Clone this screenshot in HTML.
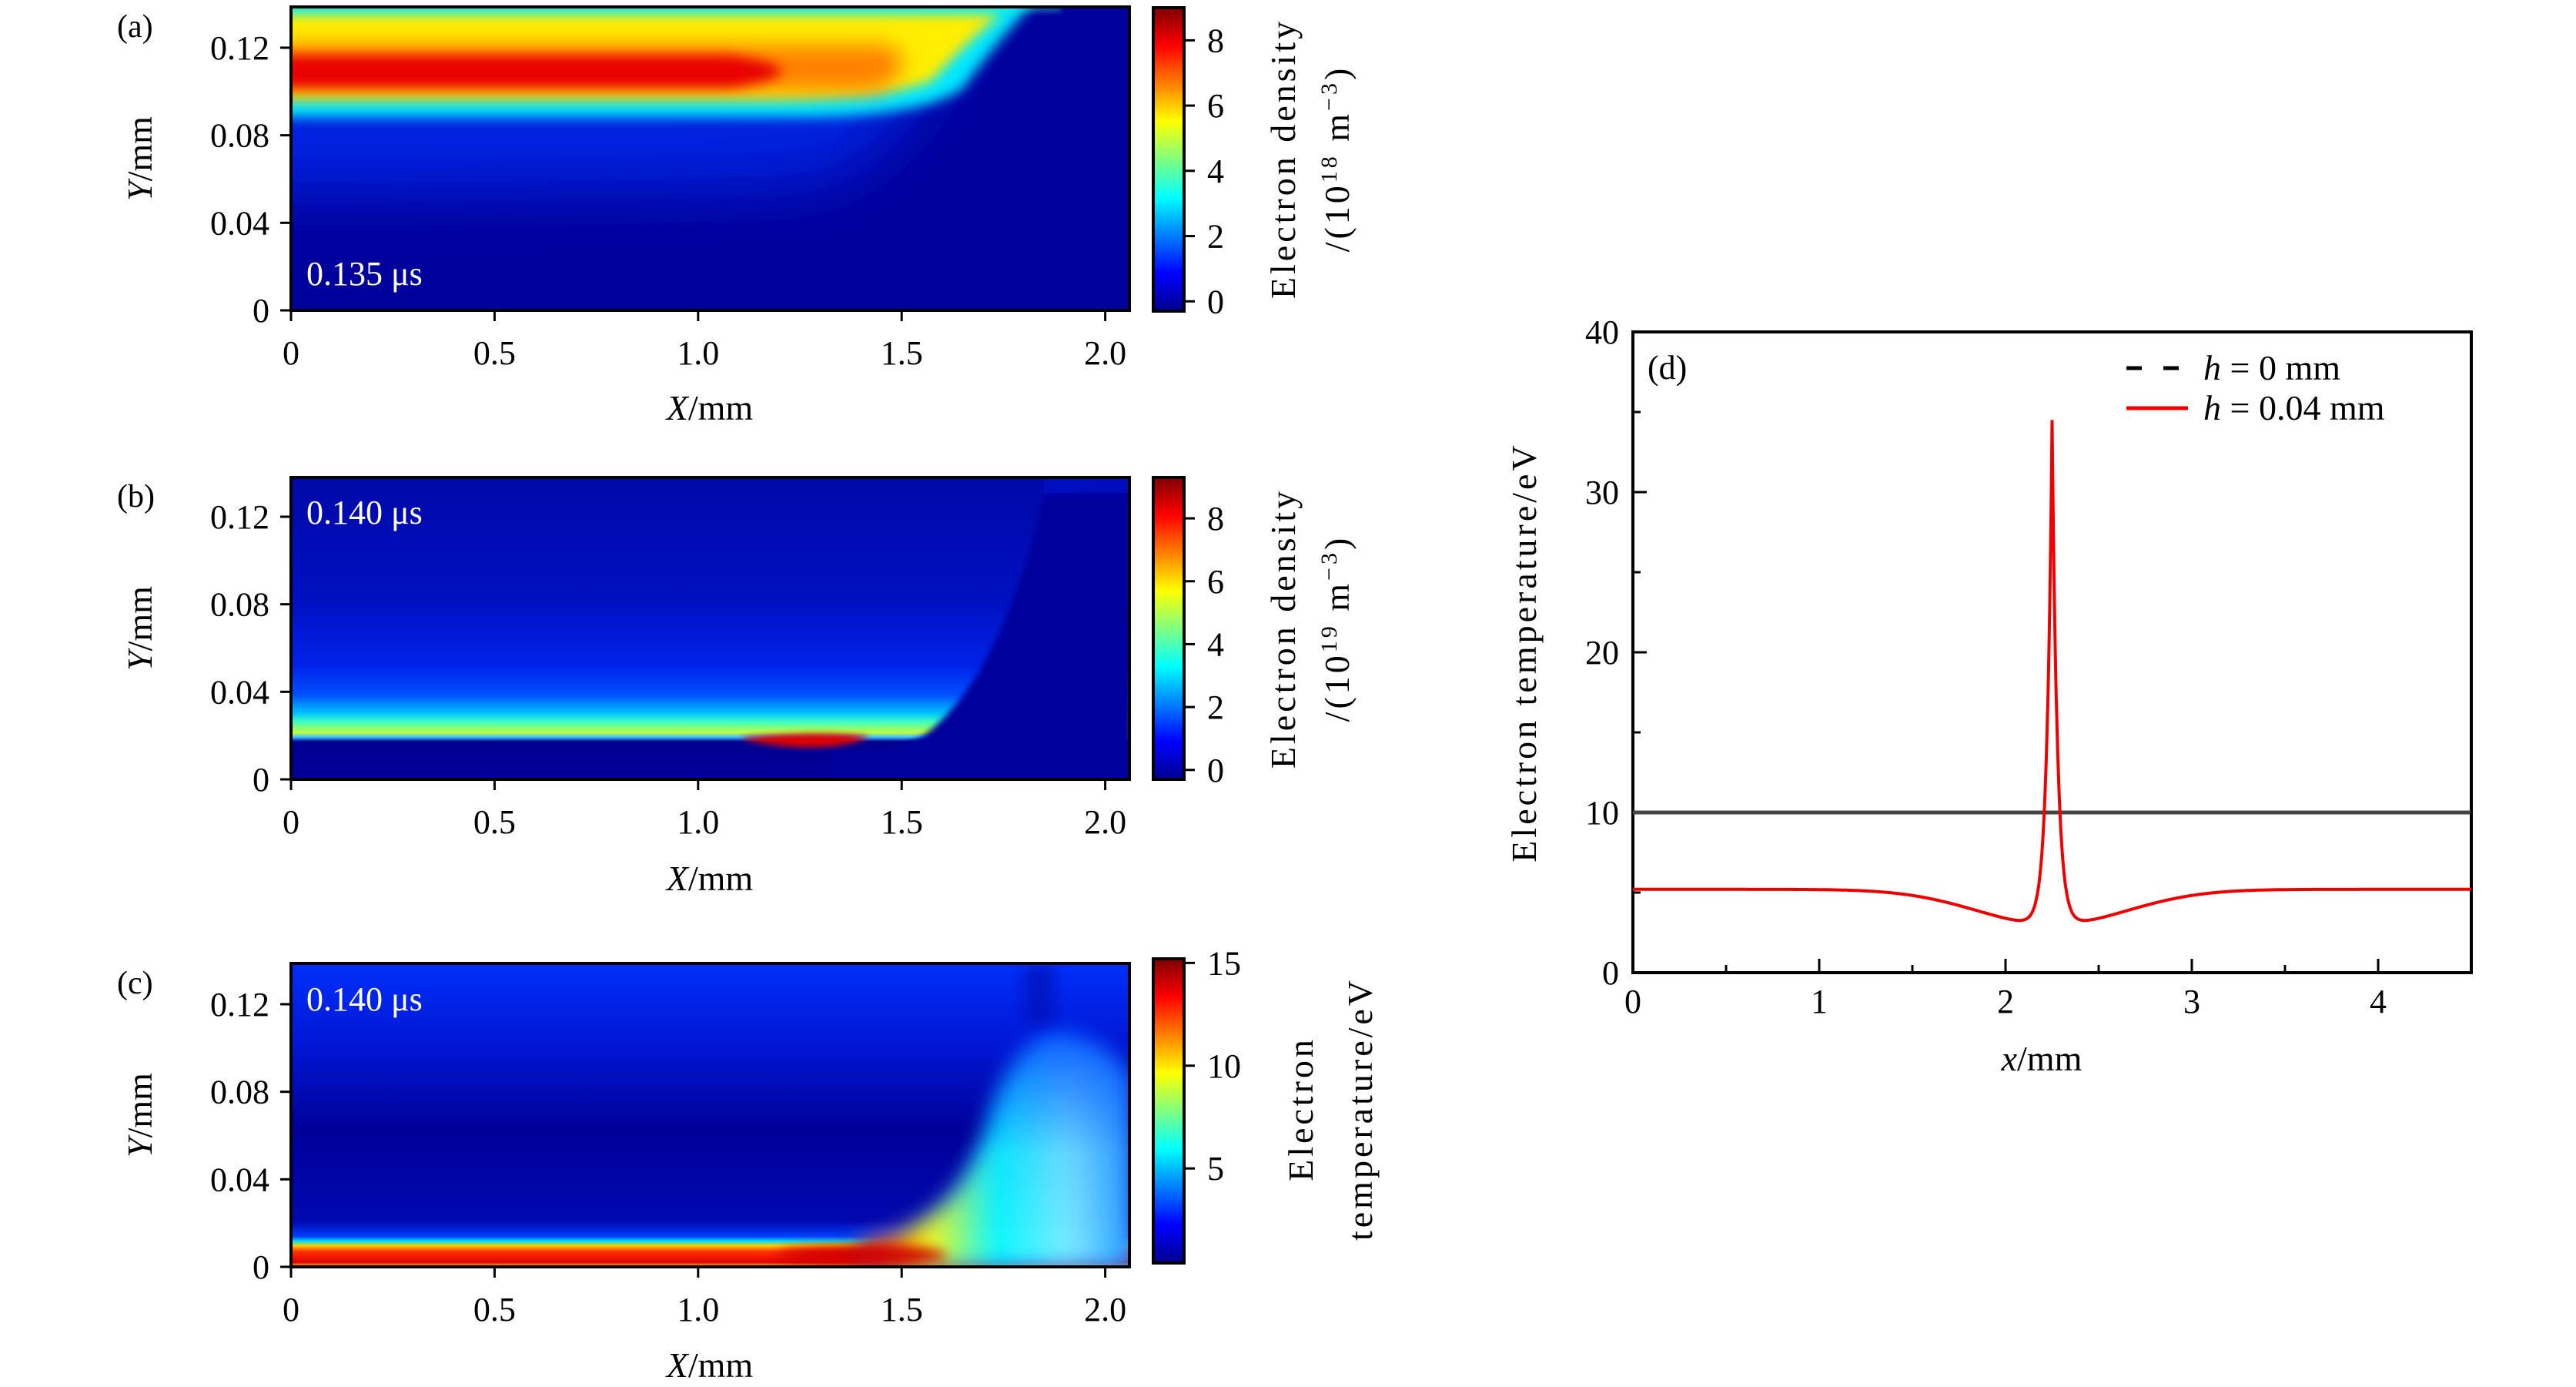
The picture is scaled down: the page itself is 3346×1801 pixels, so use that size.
<!DOCTYPE html>
<html><head><meta charset="utf-8"><style>
html,body{margin:0;padding:0;background:#fff}
svg{display:block}
text{font-family:"Liberation Serif","DejaVu Serif",serif;fill:#000}
</style></head><body>
<svg id="s" width="3346" height="1801" viewBox="0 0 3346 1801" xmlns="http://www.w3.org/2000/svg">
<defs>
<linearGradient id="jet" x1="0" y1="1" x2="0" y2="0">
<stop offset="0" stop-color="#00008f"/><stop offset="0.125" stop-color="#0000ff"/>
<stop offset="0.375" stop-color="#00ffff"/><stop offset="0.5" stop-color="#80ff80"/><stop offset="0.625" stop-color="#ffff00"/>
<stop offset="0.875" stop-color="#ff0000"/><stop offset="1" stop-color="#800000"/></linearGradient>
<filter id="b4" filterUnits="userSpaceOnUse" x="0" y="0" width="3346" height="1801"><feGaussianBlur stdDeviation="4"/></filter>
<filter id="b8" filterUnits="userSpaceOnUse" x="0" y="0" width="3346" height="1801"><feGaussianBlur stdDeviation="8"/></filter>
<filter id="b14" filterUnits="userSpaceOnUse" x="0" y="0" width="3346" height="1801"><feGaussianBlur stdDeviation="14"/></filter>
<filter id="b20" filterUnits="userSpaceOnUse" x="0" y="0" width="3346" height="1801"><feGaussianBlur stdDeviation="20"/></filter>
<filter id="b40" filterUnits="userSpaceOnUse" x="0" y="0" width="3346" height="1801"><feGaussianBlur stdDeviation="40"/></filter>
<clipPath id="ca"><rect x="378" y="9" width="1089" height="394"/></clipPath>
<clipPath id="cb"><rect x="378" y="620" width="1089" height="392"/></clipPath>
<clipPath id="cc"><rect x="378" y="1251" width="1089" height="394"/></clipPath>
<linearGradient id="bgb" x1="0" y1="0" x2="0" y2="1">
<stop offset="0" stop-color="#0008a8"/><stop offset="0.4" stop-color="#0010c0"/><stop offset="0.62" stop-color="#0022e8"/><stop offset="0.72" stop-color="#0050ff"/><stop offset="0.78" stop-color="#00c0ff"/><stop offset="0.81" stop-color="#40ffc0"/><stop offset="0.845" stop-color="#c0ff40"/><stop offset="0.86" stop-color="#40c0ff"/><stop offset="0.875" stop-color="#000090"/><stop offset="1" stop-color="#00009a"/></linearGradient>
<linearGradient id="bgc" x1="0" y1="0" x2="0" y2="1">
<stop offset="0" stop-color="#0030f8"/><stop offset="0.25" stop-color="#0018d8"/><stop offset="0.55" stop-color="#000098"/><stop offset="0.85" stop-color="#0008b0"/><stop offset="0.9" stop-color="#0040ff"/><stop offset="0.915" stop-color="#00e0ff"/><stop offset="0.93" stop-color="#ffd000"/><stop offset="0.95" stop-color="#ff3000"/><stop offset="0.985" stop-color="#e00000"/><stop offset="1" stop-color="#ffe000"/></linearGradient>
<linearGradient id="hotc" x1="1150" y1="0" x2="1467" y2="0" gradientUnits="userSpaceOnUse">
<stop offset="0" stop-color="#ff4000"/><stop offset="0.18" stop-color="#ffff00"/><stop offset="0.45" stop-color="#00ffff"/><stop offset="0.75" stop-color="#80f0ff"/><stop offset="1" stop-color="#30a0ff"/></linearGradient>
<linearGradient id="hotv" x1="0" y1="1320" x2="0" y2="1645" gradientUnits="userSpaceOnUse">
<stop offset="0" stop-color="#fff" stop-opacity="0"/><stop offset="0.55" stop-color="#fff" stop-opacity="0.85"/><stop offset="1" stop-color="#fff" stop-opacity="1"/></linearGradient>
<mask id="mc" maskUnits="userSpaceOnUse" x="0" y="0" width="3346" height="1801"><rect x="1000" y="1251" width="467" height="394" fill="url(#hotv)"/></mask>
</defs>

<!-- Panel a -->
<g clip-path="url(#ca)">
<rect x="378" y="9" width="1089" height="394" fill="#00009c"/>
<path d="M300 0 H1250 Q1200 200 1050 240 Q800 250 300 250 Z" fill="#0020e0" filter="url(#b40)"/>
<path d="M300 0 H1345 Q1290 60 1250 115 Q1200 150 1050 152 H300 Z" fill="#00e8ff" filter="url(#b8)"/>
<path d="M300 18 H1300 Q1250 60 1210 105 Q1150 128 1000 129 H300 Z" fill="#ffee00" filter="url(#b8)"/>
<path d="M300 58 H1150 Q1200 80 1140 118 H300 Z" fill="#ff8000" filter="url(#b14)"/>
<path d="M300 72 H950 Q1080 92 950 114 H300 Z" fill="#e80000" filter="url(#b8)"/>
<rect x="378" y="9" width="1000" height="5" fill="#40ffc0" opacity="0.6" filter="url(#b4)"/>
</g>
<!-- Panel b -->
<g clip-path="url(#cb)">
<rect x="378" y="620" width="1089" height="392" fill="url(#bgb)"/>
<path d="M1080 972 Q1150 985 1200 955 Q1300 880 1356 643 L1470 620 L1470 1020 L1080 1020 Z" fill="#00009c" filter="url(#b4)"/>
<path d="M960 958 Q1060 948 1130 956 Q1100 972 1040 970 Q990 968 960 958 Z" fill="#e00000" filter="url(#b4)"/>
<rect x="1356" y="620" width="111" height="20" fill="#0010c0" filter="url(#b4)"/>
</g>
<!-- Panel c -->
<g clip-path="url(#cc)">
<rect x="378" y="1251" width="1089" height="394" fill="url(#bgc)"/>
<path d="M1118 1611 Q1250 1600 1290 1440 Q1320 1350 1370 1335 Q1440 1345 1470 1400 L1470 1645 L1118 1645 Z" fill="#0050ff" filter="url(#b14)"/>
<g mask="url(#mc)"><path d="M1118 1611 Q1250 1600 1290 1440 Q1320 1350 1370 1340 Q1440 1345 1470 1400 L1470 1645 L1118 1645 Z" fill="url(#hotc)" filter="url(#b14)"/></g>
<ellipse cx="1120" cy="1630" rx="110" ry="12" fill="#d00000" filter="url(#b8)"/>
<rect x="1330" y="1251" width="40" height="80" fill="#0010b0" opacity="0.6" filter="url(#b8)"/>
</g>

<g fill="none" stroke="#000" stroke-width="4">
<rect x="378" y="9" width="1089" height="394"/>
<rect x="378" y="620" width="1089" height="392"/>
<rect x="378" y="1251" width="1089" height="394"/>
</g>
<rect x="1498" y="10" width="40" height="394" fill="url(#jet)" stroke="#000" stroke-width="4"/>
<rect x="1498" y="620" width="40" height="392" fill="url(#jet)" stroke="#000" stroke-width="4"/>
<rect x="1498" y="1245" width="40" height="395" fill="url(#jet)" stroke="#000" stroke-width="4"/>

<g id="ticks" stroke="#000" stroke-width="3"></g>
<g id="labels" font-size="44"></g>

<g font-size="44">
<text x="398" y="370" style="fill:#fff">0.135 μs</text>
<text x="398" y="680" style="fill:#fff">0.140 μs</text>
<text x="398" y="1312" style="fill:#fff">0.140 μs</text>
</g>
<g font-size="42">
<text x="152" y="48">(a)</text>
<text x="152" y="658">(b)</text>
<text x="152" y="1290">(c)</text>
</g>
<g font-size="46">
<text x="922" y="545" text-anchor="middle"><tspan font-style="italic">X</tspan>/mm</text>
<text x="922" y="1156" text-anchor="middle"><tspan font-style="italic">X</tspan>/mm</text>
<text x="922" y="1788" text-anchor="middle"><tspan font-style="italic">X</tspan>/mm</text>
<text transform="translate(197,206) rotate(-90)" text-anchor="middle"><tspan font-style="italic">Y</tspan>/mm</text>
<text transform="translate(197,816) rotate(-90)" text-anchor="middle"><tspan font-style="italic">Y</tspan>/mm</text>
<text transform="translate(197,1448) rotate(-90)" text-anchor="middle"><tspan font-style="italic">Y</tspan>/mm</text>
<text transform="translate(1682,206) rotate(-90)" text-anchor="middle" letter-spacing="4">Electron density</text>
<text transform="translate(1752,206) rotate(-90)" text-anchor="middle" letter-spacing="4">/(10<tspan font-size="30" dy="-16">18</tspan><tspan dy="16"> m</tspan><tspan font-size="30" dy="-16">−3</tspan><tspan dy="16">)</tspan></text>
<text transform="translate(1682,816) rotate(-90)" text-anchor="middle" letter-spacing="4">Electron density</text>
<text transform="translate(1752,816) rotate(-90)" text-anchor="middle" letter-spacing="4">/(10<tspan font-size="30" dy="-16">19</tspan><tspan dy="16"> m</tspan><tspan font-size="30" dy="-16">−3</tspan><tspan dy="16">)</tspan></text>
<text transform="translate(1705,1440) rotate(-90)" text-anchor="middle" letter-spacing="4">Electron</text>
<text transform="translate(1782,1440) rotate(-90)" text-anchor="middle" letter-spacing="4">temperature/eV</text>
<text x="2652" y="1390" text-anchor="middle"><tspan font-style="italic">x</tspan>/mm</text>
<text transform="translate(1995,847) rotate(-90)" text-anchor="middle" letter-spacing="4">Electron temperature/eV</text>
</g>

<!-- Panel d -->
<rect x="2121" y="431" width="1089" height="832" fill="none" stroke="#000" stroke-width="4"/>
<line x1="2121" y1="1055" x2="3209" y2="1055" stroke="#444" stroke-width="5"/>
<path id="red" fill="none" stroke="#ee0000" stroke-width="4"/>
<text x="2140" y="492" font-size="44">(d)</text>
<line x1="2762" y1="478" x2="2842" y2="478" stroke="#000" stroke-width="5" stroke-dasharray="20 28"/>
<line x1="2762" y1="530" x2="2842" y2="530" stroke="#ee0000" stroke-width="5"/>
<text x="2862" y="493" font-size="46"><tspan font-style="italic">h</tspan> = 0 mm</text>
<text x="2862" y="545" font-size="46"><tspan font-style="italic">h</tspan> = 0.04 mm</text>
</svg>
<script>
var NS="http://www.w3.org/2000/svg",T=document.getElementById('ticks'),L=document.getElementById('labels');
function ln(a,b,c,d){var e=document.createElementNS(NS,'line');e.setAttribute('x1',a);e.setAttribute('y1',b);e.setAttribute('x2',c);e.setAttribute('y2',d);T.appendChild(e);}
function tx(x,y,s,anc){var e=document.createElementNS(NS,'text');e.setAttribute('x',x);e.setAttribute('y',y);e.setAttribute('text-anchor',anc);e.textContent=s;L.appendChild(e);}
[[403,9],[1012,620],[1645,1251]].forEach(function(p){var b=p[0];
 [0,0.5,1,1.5,2].forEach(function(v,i){var x=378+v*528.8;ln(x,b,x,b+14);tx(x,b+70,['0','0.5','1.0','1.5','2.0'][i],'middle');});
 [0,0.04,0.08,0.12].forEach(function(v,i){var y=b-v*2842;ln(364,y,378,y);tx(350,y+15,['0','0.04','0.08','0.12'][i],'end');});
});
function cb(top,bot,vmin,vmax,vals){vals.forEach(function(v){var y=bot-(v-vmin)/(vmax-vmin)*(bot-top);ln(1538,y,1552,y);tx(1568,y+15,String(v),'start');});}
cb(10,404,-0.3,9.0,[0,2,4,6,8]);cb(620,1012,-0.3,9.3,[0,2,4,6,8]);cb(1245,1640,0.4,15.2,[5,10,15]);
for(var i=0;i<=9;i++){var x=2121+i*0.5*242;var l=i%2?10:18;ln(x,1263,x,1263-l);}
[0,1,2,3,4].forEach(function(v){tx(2121+v*242,1315,String(v),'middle');});
for(var j=0;j<=8;j++){var y=1263-j*5*20.8;var l=j%2?10:18;ln(2121,y,2121+l,y);}
[0,10,20,30,40].forEach(function(v){tx(2103,1263-v*20.8+15,String(v),'end');});
var d='';for(var k=0;k<=1800;k++){var x=k*4.5/1800;var t=5.2-2.2*Math.exp(-Math.pow(x-2.25,2)/(2*0.16))+31.5*Math.exp(-Math.abs(x-2.25)/0.028);
 d+=(k?'L':'M')+(2121+x*242).toFixed(1)+' '+(1263-t*20.8).toFixed(1);}
document.getElementById('red').setAttribute('d',d);
</script>
</body></html>
